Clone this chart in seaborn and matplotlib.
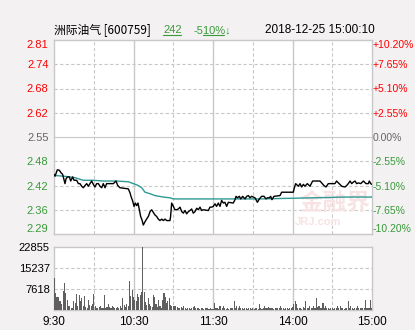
import matplotlib
matplotlib.use("Agg")
import matplotlib.pyplot as plt
from matplotlib.lines import Line2D
import seaborn as sns

# ---------------- data ----------------
stock_name = "洲际油气 [600759]"
info_vol = "242"
info_chg = "-510%↓"
timestamp = "2018-12-25 15:00:10"

prev_close = 2.55
price_ticks = [2.29, 2.355, 2.42, 2.485, 2.55, 2.615, 2.68, 2.745, 2.81]
price_labels = ["2.29", "2.36", "2.42", "2.48", "2.55", "2.62", "2.68", "2.74", "2.81"]
pct_labels = ["-10.20%", "-7.65%", "-5.10%", "-2.55%", "0.00%", "+2.55%", "+5.10%", "+7.65%", "+10.20%"]

time_ticks = [0, 60, 120, 180, 240]
time_labels = ["9:30", "10:30", "11:30", "14:00", "15:00"]

vol_ticks = [7618, 15237, 22855]
vol_labels = ["7618", "15237", "22855"]

price_min = [0, 0.8, 2.5, 4.0, 5.3, 6.5, 7.5, 8.3, 9.1, 10.1, 11.6, 12.6, 14.1, 15.1, 17.1,
             18.4, 19.6, 20.9, 22.1, 23.4, 24.7, 25.9, 27.2, 28.4, 29.7, 30.9, 32.2, 33.5,
             34.7, 36.0, 37.2, 38.5, 39.7, 44.8, 46.8, 48.1, 49.8, 56.1, 57.4, 58.1, 59.4,
             60.4, 61.4, 62.4, 63.4, 64.4, 65.4, 66.4, 67.4, 68.7, 69.9, 71.2, 72.5, 73.7,
             75.0, 76.2, 77.5, 78.7, 80.0, 81.3, 82.5, 83.8, 85.0, 87.5, 88.0, 88.8, 90.1,
             91.3, 92.6, 93.8, 95.1, 96.4, 97.6, 98.9, 100.1, 101.4, 102.6, 103.9, 105.1,
             106.4, 107.7, 108.9, 110.2, 111.4, 112.7, 116.5, 117.7, 119.0, 120.2, 121.5,
             122.7, 124.0, 125.3, 126.5, 127.8, 129.0, 130.3, 131.6, 135.3, 136.6, 137.4,
             138.4, 139.9, 140.9, 142.4, 144.2, 145.4, 146.7, 147.9, 149.2, 151.7, 153.5,
             155.0, 156.7, 158.5, 160.0, 161.0, 162.5, 163.5, 164.5, 166.0, 170.6, 171.8,
             180.6, 181.4, 182.4, 184.4, 185.7, 186.9, 188.2, 189.4, 191.2, 193.2, 195.2,
             200.7, 202.0, 203.7, 205.3, 207.0, 212.0, 213.3, 214.6, 215.8, 217.1, 219.6,
             220.9, 222.1, 223.4, 224.7, 225.9, 227.2, 228.4, 229.7, 231.5, 233.5, 235.5,
             237.2, 238.0, 239.0, 240.0]
price_val = [2.450, 2.445, 2.462, 2.461, 2.454, 2.450, 2.436, 2.425, 2.438, 2.443, 2.443,
             2.432, 2.443, 2.434, 2.434, 2.425, 2.425, 2.418, 2.414, 2.420, 2.425, 2.418,
             2.425, 2.432, 2.423, 2.416, 2.425, 2.425, 2.418, 2.414, 2.425, 2.414, 2.425,
             2.425, 2.432, 2.420, 2.414, 2.411, 2.400, 2.391, 2.378, 2.364, 2.373, 2.366,
             2.373, 2.355, 2.337, 2.328, 2.314, 2.323, 2.330, 2.337, 2.350, 2.355, 2.348,
             2.341, 2.337, 2.330, 2.326, 2.330, 2.326, 2.330, 2.326, 2.326, 2.337, 2.373,
             2.364, 2.355, 2.355, 2.357, 2.362, 2.350, 2.346, 2.353, 2.344, 2.350, 2.353,
             2.357, 2.346, 2.350, 2.359, 2.355, 2.362, 2.353, 2.355, 2.353, 2.362, 2.362,
             2.364, 2.371, 2.364, 2.373, 2.364, 2.380, 2.373, 2.375, 2.364, 2.375, 2.373,
             2.382, 2.391, 2.387, 2.391, 2.384, 2.391, 2.384, 2.391, 2.393, 2.387, 2.391,
             2.387, 2.375, 2.384, 2.391, 2.391, 2.384, 2.387, 2.387, 2.391, 2.382, 2.391,
             2.393, 2.402, 2.402, 2.414, 2.425, 2.418, 2.425, 2.416, 2.423, 2.418, 2.425,
             2.418, 2.432, 2.432, 2.427, 2.420, 2.416, 2.425, 2.425, 2.432, 2.427, 2.423,
             2.418, 2.416, 2.420, 2.425, 2.432, 2.425, 2.429, 2.432, 2.425, 2.427, 2.425,
             2.432, 2.425, 2.425, 2.432, 2.425, 2.423]

avg_min = [0, 7.0, 12.1, 15.8, 22.1, 29.7, 37.2, 47.3, 56.1, 59.9, 63.6, 66.2, 68.7, 72.5,
           76.2, 82.5, 87.5, 90.1, 155.5, 195.5, 219.4, 240.0]
avg_val = [2.447, 2.445, 2.443, 2.441, 2.434, 2.434, 2.432, 2.432, 2.430, 2.425, 2.420,
           2.414, 2.402, 2.398, 2.393, 2.389, 2.387, 2.384, 2.384, 2.387, 2.389, 2.389]

volume = [
    11600, 6200, 4600, 4600, 3400, 3200, 2300, 7000, 9900, 6200,
    3800, 1600, 1600, 700, 700, 3200, 2600, 5700, 1300, 5400,
    3200, 4500, 1600, 5000, 1000, 600, 3500, 1700, 1300, 2300,
    5700, 1300, 800, 600, 1000, 1300, 600, 600, 5400, 800,
    1000, 2200, 1000, 700, 1300, 1000, 600, 800, 1100, 700,
    1600, 800, 4300, 1800, 1100, 2100, 1600, 10500, 5000, 7400,
    4800, 3800, 3100, 5700, 4800, 5300, 6500, 22855, 6500, 2800,
    1900, 4500, 2300, 1600, 1100, 5400, 4800, 2000, 1100, 3500,
    1300, 600, 3500, 6100, 4800, 2500, 3100, 4500, 1800, 1600,
    1600, 1500, 1300, 1100, 900, 600, 1100, 900, 1300, 600,
    500, 600, 600, 500, 600, 1100, 1300, 600, 900, 600,
    400, 600, 600, 500, 900, 600, 700, 500, 600, 500,
    300, 2400, 600, 900, 500, 1300, 1600, 700, 1600, 600,
    500, 600, 500, 700, 600, 600, 3200, 700, 1600, 600,
    1600, 600, 700, 500, 900, 600, 500, 700, 600, 500,
    600, 500, 700, 600, 500, 2100, 600, 500, 700, 1300,
    600, 900, 1100, 600, 700, 600, 500, 900, 600, 800,
    600, 1300, 900, 600, 500, 700, 600, 500, 600, 600,
    1100, 2000, 3200, 2300, 700, 900, 600, 500, 1100, 600,
    3200, 600, 900, 1300, 700, 600, 1600, 900, 4300, 1000,
    1600, 700, 900, 2400, 600, 1300, 700, 600, 500, 600,
    700, 500, 600, 700, 1300, 600, 1300, 700, 600, 500,
    900, 600, 3200, 700, 1300, 600, 500, 700, 600, 1300,
    700, 600, 900, 600, 700, 3500, 600, 900, 700, 3500,
    600]
vol_min = list(range(len(volume)))

# ---------------- style ----------------
BG = "#f3f1f2"
GRID = "#c8c8c8"
RED = "#ff0000"
GREEN = "#3a9a3a"
GRAY = "#666666"
FS = 8

sns.set_theme(style="white")
plt.rcParams["font.family"] = ["Liberation Sans", "Noto Sans CJK SC", "DejaVu Sans"]

fig = plt.figure(figsize=(4.15, 3.30), dpi=100, facecolor=BG)
ax = fig.add_axes([54 / 415, 1 - 234 / 330, 318 / 415, 194 / 330])
axv = fig.add_axes([54 / 415, 1 - 310 / 330, 318 / 415, 63 / 330])

for a in (ax, axv):
    a.set_facecolor("white")
    for s in a.spines.values():
        s.set_color(GRID)
        s.set_linewidth(1.0)
    a.set_xlim(0, 240)

# grid lines
for t in price_ticks[1:-1]:
    ax.axhline(t, color=GRID, lw=0.8, ls="-" if abs(t - prev_close) < 1e-6 else (0, (3, 2)), zorder=0)
for m in [30, 60, 90, 120, 150, 180, 210]:
    solid = m in (60, 120, 180)
    for a in (ax, axv):
        a.axvline(m, color=GRID, lw=1.0 if solid else 0.8, ls="-" if solid else (0, (3, 2)), zorder=0)
for t in vol_ticks[:-1]:
    axv.axhline(t, color=GRID, lw=0.8, ls=(0, (3, 2)), zorder=0)

# watermark
ax.text(0.995, 0.16, "金融界", transform=ax.transAxes, ha="right", va="center",
        fontsize=17, fontweight="bold", color="#f7e3e3",
        family=["Noto Sans CJK SC", "DejaVu Sans"], zorder=1)
ax.text(0.758, 0.062, "JRJ.com", transform=ax.transAxes, ha="left", va="center",
        fontsize=8, fontweight="bold", color="#f7e3e3", zorder=1)

# price and average lines
sns.lineplot(x=avg_min, y=avg_val, ax=ax, color="#2f9a94", lw=1.0, estimator=None, zorder=3)
sns.lineplot(x=price_min, y=price_val, ax=ax, color="black", lw=1.0, estimator=None, zorder=4)


def color_for(t):
    if t > prev_close + 1e-6:
        return RED
    if t < prev_close - 1e-6:
        return GREEN
    return GRAY


ax.set_ylim(price_ticks[0], price_ticks[-1])
ax.set_xticks([])
ax.set_yticks(price_ticks)
ax.set_yticklabels(price_labels, fontsize=FS)
ax.tick_params(axis="y", length=0, pad=4)
labs = ax.get_yticklabels()
for lbl, t in zip(labs, price_ticks):
    lbl.set_color(color_for(t))
labs[0].set_va("bottom")
labs[-1].set_va("top")
ax.set_xlabel("")
ax.set_ylabel("")

axr = ax.twinx()
axr.set_ylim(price_ticks[0], price_ticks[-1])
axr.set_yticks(price_ticks)
axr.set_yticklabels(pct_labels, fontsize=7.5)
axr.tick_params(axis="y", length=0, pad=0.5)
for s in axr.spines.values():
    s.set_visible(False)
rlabs = axr.get_yticklabels()
for lbl, t in zip(rlabs, price_ticks):
    lbl.set_color(color_for(t))
rlabs[0].set_va("bottom")
rlabs[-1].set_va("top")
axr.grid(False)

# volume bars
sns.barplot(x=vol_min, y=volume, ax=axv, native_scale=True, color="#5f5f5f",
            width=0.8, saturation=1, zorder=3, linewidth=0)
axv.set_ylim(0, vol_ticks[-1])
axv.set_yticks(vol_ticks)
axv.set_yticklabels(vol_labels, fontsize=FS, color="black")
axv.set_xlim(0, 240)
axv.set_xticks(time_ticks)
axv.set_xticklabels(time_labels, fontsize=FS + 0.5, color="black")
axv.tick_params(axis="both", length=0, pad=3)
axv.tick_params(axis="x", pad=4)
axv.set_xlabel("")
axv.set_ylabel("")

# header texts
hy = 1 - 30 / 330
fig.text(54 / 415, hy, stock_name, fontsize=FS + 0.5, color="black",
         family=["Noto Sans CJK SC", "DejaVu Sans"], va="center", ha="left")
fig.text(163 / 415, hy, info_vol, fontsize=FS, color=GREEN, va="center", ha="left")
fig.text(193 / 415, hy, info_chg, fontsize=FS, color=GREEN, va="center", ha="left",
         family=["Liberation Sans", "DejaVu Sans"])
fig.text(375 / 415, hy, timestamp, fontsize=FS + 0.5, color="black", va="center", ha="right")
# underlines
uy = 1 - 35 / 330
fig.add_artist(Line2D([163 / 415, 181 / 415], [uy, uy], color=GREEN, lw=0.8))
fig.add_artist(Line2D([203 / 415, 224 / 415], [uy, uy], color=GREEN, lw=0.8))

fig.savefig("out.png", dpi=100, facecolor=BG)
